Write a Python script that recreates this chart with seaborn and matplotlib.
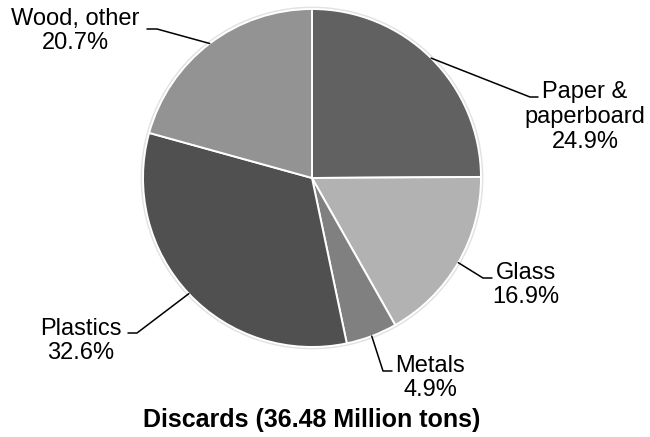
import numpy as np
import matplotlib
matplotlib.use("Agg")
import matplotlib.pyplot as plt
import seaborn as sns

# data (clockwise from 12 o'clock)
materials = ["Paper &\npaperboard", "Glass", "Metals", "Plastics", "Wood, other"]
shares = [24.9, 16.9, 4.9, 32.6, 20.7]
colors = ["#616161", "#b2b2b2", "#808080", "#505050", "#939393"]
title = "Discards (36.48 Million tons)"

# label layout, in pixels of the 650x437 figure: text centre, elbow, line end
label_pos = [(585, 117), (526, 285), (430, 378), (81, 341), (75, 31)]
elbows = [(530, 97), (483, 278), (383, 371), (137, 333), (157, 29)]
line_ends = [(538, 97), (492, 278), (392, 371), (128, 333), (147, 29)]

W, H = 650, 437
CX, CY, R = 312, 178, 169


def px(x, y):
    # pixel position -> data units (pie centred at 0,0 with radius 1)
    return (x - CX) / R, (CY - y) / R


sns.set_theme(style="white")
plt.rcParams["font.family"] = ["Liberation Sans", "DejaVu Sans"]

fig = plt.figure(figsize=(W / 100, H / 100), dpi=100)
ax = fig.add_axes([0, 0, 1, 1])

# faint halo around the pie
ax.add_patch(plt.Circle((0, 0), 1.01, color="#e2e2e2", zorder=0))

wedges, _ = ax.pie(shares, colors=colors, startangle=90, counterclock=False,
                   radius=1, center=(0, 0),
                   wedgeprops=dict(edgecolor="white", linewidth=1.4))

# pie() resets the limits, so set them afterwards
ax.set_aspect("auto")
ax.set_xlim(-CX / R, (W - CX) / R)
ax.set_ylim(-(H - CY) / R, CY / R)
ax.axis("off")

for w, lab, val, tp, el, le in zip(wedges, materials, shares, label_pos, elbows, line_ends):
    mid = np.deg2rad((w.theta1 + w.theta2) / 2)
    sx, sy = np.cos(mid), np.sin(mid)
    ex, ey = px(*el)
    lx, ly = px(*le)
    ax.plot([sx, ex, lx], [sy, ey, ly], color="black", lw=1.1, zorder=3)
    tx, ty = px(*tp)
    ax.text(tx, ty, f"{lab}\n{val}%", ha="center", va="center",
            multialignment="center", fontsize=17, color="black", linespacing=1.15)

tx, ty = px(312, 427)
ax.text(tx, ty, title, ha="center", va="baseline", fontsize=18,
        fontweight="bold", color="black")

fig.savefig("out.png", dpi=100)
